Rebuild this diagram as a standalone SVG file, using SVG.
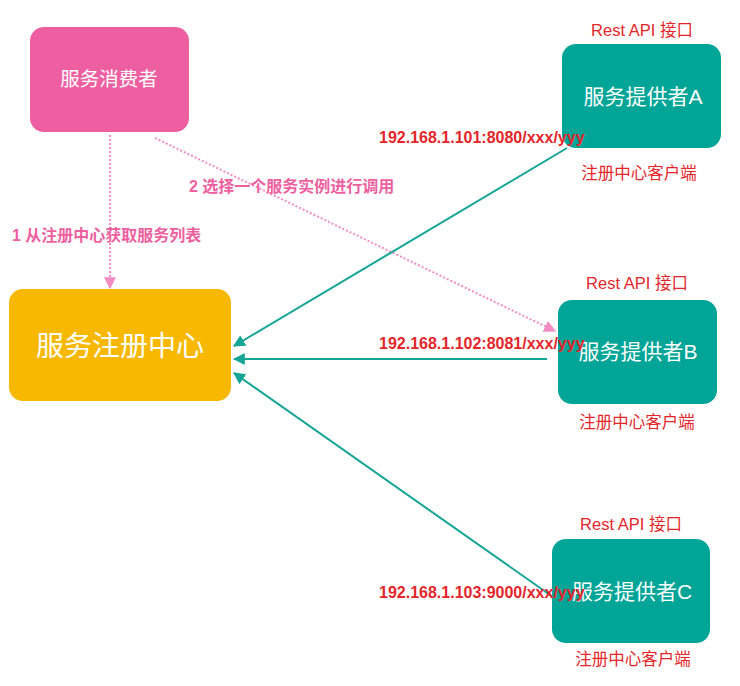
<svg xmlns="http://www.w3.org/2000/svg" width="740" height="686" viewBox="0 0 740 686">
<defs>
<style>
.t{font-family:"Liberation Sans","Noto Sans CJK SC",sans-serif}
.white{fill:#fff;text-anchor:middle}
.red{fill:#E4262B;font-weight:bold;font-size:16px}
.redc{fill:#E4262B;font-size:16.5px;text-anchor:middle}
.pinkt{fill:#EE5FA0;font-size:16px;font-weight:bold}
.teal{stroke:#14A596;stroke-width:2;fill:none}
.dot{stroke:#F48CC4;stroke-width:2;stroke-dasharray:2 2;fill:none}
</style>
<marker id="ah" viewBox="0 0 10 10" refX="9" refY="5" markerWidth="6" markerHeight="6" orient="auto" markerUnits="strokeWidth">
<path d="M0,0 L10,5 L0,10 z" fill="#14A596"/>
</marker>
<marker id="ap" viewBox="0 0 10 10" refX="9" refY="5" markerWidth="6" markerHeight="6" orient="auto" markerUnits="strokeWidth">
<path d="M0,0 L10,5 L0,10 z" fill="#F48CC4"/>
</marker>
</defs>
<rect width="740" height="686" fill="#fff"/>
<g id="connectors">
<path class="dot" d="M110,135 L110,288" marker-end="url(#ap)"/>
<path class="dot" d="M155,138 L555,331" marker-end="url(#ap)"/>
<path class="teal" d="M567,148 L234,346" marker-end="url(#ah)"/>
<path class="teal" d="M547,359 L234,359" marker-end="url(#ah)"/>
<path class="teal" d="M553,597 L234,373" marker-end="url(#ah)"/>
</g>
<g id="consumer">
<rect x="30" y="27" width="159" height="105" rx="14" fill="#EE5FA1"/>
<text class="t white" x="109" y="86" font-size="19.5">服务消费者</text>
</g>
<g id="registry">
<rect x="9" y="289" width="222" height="112" rx="14" fill="#F8B800"/>
<text class="t white" x="120" y="356" font-size="28">服务注册中心</text>
</g>
<g id="providerA">
<text class="t redc" x="642" y="36">Rest API 接口</text>
<rect x="562" y="44" width="159" height="104" rx="14" fill="#00A597"/>
<text class="t white" x="643" y="104" font-size="21">服务提供者A</text>
<text class="t redc" x="639" y="179">注册中心客户端</text>
</g>
<g id="providerB">
<text class="t redc" x="637" y="289">Rest API 接口</text>
<rect x="558" y="300" width="159" height="104" rx="14" fill="#00A597"/>
<text class="t white" x="638" y="359" font-size="21">服务提供者B</text>
<text class="t redc" x="637" y="428">注册中心客户端</text>
</g>
<g id="providerC">
<text class="t redc" x="631" y="530">Rest API 接口</text>
<rect x="552" y="539" width="158" height="104" rx="14" fill="#00A597"/>
<text class="t white" x="632" y="599" font-size="21">服务提供者C</text>
<text class="t redc" x="633" y="665">注册中心客户端</text>
</g>
<g id="labels">
<text class="t red" x="379" y="143">192.168.1.101:8080/xxx/yyy</text>
<text class="t red" x="379" y="349">192.168.1.102:8081/xxx/yyy</text>
<text class="t red" x="379" y="598">192.168.1.103:9000/xxx/yyy</text>
<text class="t pinkt" x="12" y="241">1 从注册中心获取服务列表</text>
<text class="t pinkt" x="189" y="192">2 选择一个服务实例进行调用</text>
</g>
</svg>
